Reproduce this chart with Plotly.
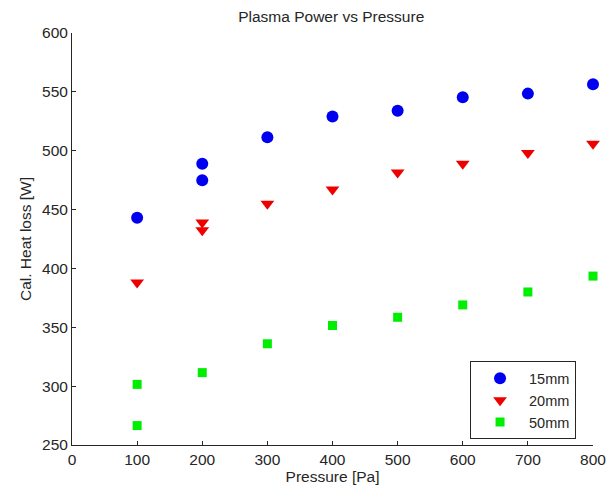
import plotly.graph_objects as go

pressure_15 = [100, 200, 200, 300, 400, 500, 600, 700, 800]
heat_15 = [443, 489, 475, 511.5, 529, 534, 545.5, 548.5, 556.5]

pressure_20 = [100, 200, 200, 300, 400, 500, 600, 700, 800]
heat_20 = [388, 439, 432.5, 455, 467, 481.5, 489, 498, 506]

pressure_50 = [100, 100, 200, 300, 400, 500, 600, 700, 800]
heat_50 = [301.5, 266.5, 311.5, 336, 351.5, 358.5, 369, 380, 393.5]

x_ticks = [0, 100, 200, 300, 400, 500, 600, 700, 800]
y_ticks = [250, 300, 350, 400, 450, 500, 550, 600]

font_family = "Liberation Sans, Arial, sans-serif"
fs = 15.5
text_color = "#262626"

fig = go.Figure()
fig.add_trace(go.Scatter(x=pressure_15, y=heat_15, mode="markers", name="15mm", cliponaxis=False,
                         marker=dict(symbol="circle", size=12, color="#0000f0", line=dict(width=0))))
fig.add_trace(go.Scatter(x=pressure_20, y=heat_20, mode="markers", name="20mm", cliponaxis=False,
                         marker=dict(symbol="triangle-down", size=12, color="#ee0000", line=dict(width=0))))
fig.add_trace(go.Scatter(x=pressure_50, y=heat_50, mode="markers", name="50mm", cliponaxis=False,
                         marker=dict(symbol="square", size=9, color="#00ee00", line=dict(width=0))))

axis_common = dict(showgrid=False, zeroline=False, showline=True, linecolor=text_color, linewidth=1,
                   ticks="inside", ticklen=4, tickcolor=text_color, automargin=False,
                   tickfont=dict(family=font_family, size=fs, color=text_color), mirror=False)

fig.update_layout(
    width=610, height=489,
    margin=dict(l=72, r=17, t=33, b=44),
    paper_bgcolor="white", plot_bgcolor="white",
    font=dict(family=font_family, size=fs, color=text_color),
    title=dict(text="Plasma Power vs Pressure", x=0.543, xanchor="center", y=0.967, yanchor="middle",
               font=dict(family=font_family, size=fs, color=text_color), automargin=False),
    xaxis=dict(range=[0, 800], tickvals=x_ticks, ticktext=[str(v) for v in x_ticks],
               title=dict(text="Pressure [Pa]", standoff=0, font=dict(size=fs)), **axis_common),
    yaxis=dict(range=[250, 600], tickvals=y_ticks, ticktext=[str(v) for v in y_ticks],
               title=dict(text="Cal. Heat loss [W]", standoff=6, font=dict(size=fs)), **axis_common),
    legend=dict(x=0.764, y=0.203, xanchor="left", yanchor="top", bordercolor=text_color, borderwidth=1,
                bgcolor="white", font=dict(family=font_family, size=14.5, color=text_color),
                tracegroupgap=0, itemwidth=48),
    showlegend=True,
)

fig.write_html("out.html")
